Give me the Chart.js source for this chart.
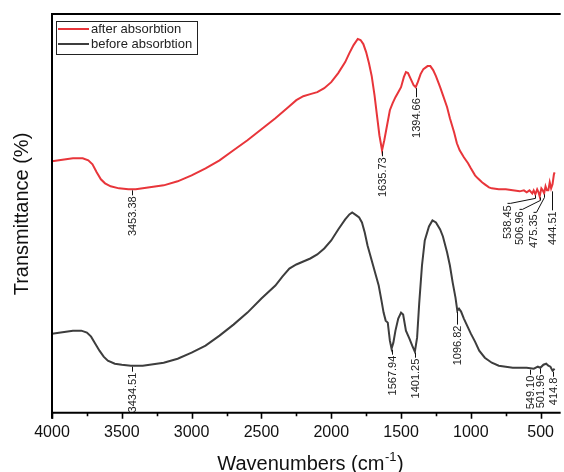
<!DOCTYPE html>
<html>
<head>
<meta charset="utf-8">
<script src="https://cdn.jsdelivr.net/npm/chart.js@4/dist/chart.umd.min.js"></script>
<style>
html,body{margin:0;padding:0;background:#fff;}
#wrap{width:564px;height:472px;position:relative;}
</style>
</head>
<body>
<div id="wrap"><canvas id="c" width="564" height="472"></canvas></div>
<script>
// ---- data ----
const seriesNames = ['after absorbtion', 'before absorbtion'];

const afterWavenumbers = [4000,3950,3900,3850,3780,3740,3710,3680,3650,3620,3580,3520,3453,3400,3300,3200,3100,3000,2900,2800,2700,2600,2500,2400,2300,2250,2200,2150,2100,2050,2000,1950,1900,1870,1840,1810,1790,1770,1750,1730,1710,1690,1670,1655,1636,1620,1600,1580,1560,1540,1520,1500,1480,1465,1450,1430,1410,1395,1380,1360,1340,1310,1290,1270,1250,1220,1200,1170,1150,1120,1100,1080,1050,1020,1000,970,950,920,900,870,850,800,750,700,650,620,600,580,560,550,538,525,515,507,495,485,475,465,455,445,435,425,415,405,400];
const afterValues = [62.75,63,63.25,63.5,63.5,63,62,60,58.25,57.25,56.5,56,55.75,55.75,56.25,56.75,57.75,59.25,61,63,65.5,68,70.75,73.5,76.5,78,79,79.5,80,81,82.5,84.75,87.5,89.75,91.75,93.25,93,92,90,87.25,84,79.25,73.5,69.25,65.5,68,71.75,75.5,77.25,78.75,80,81.25,83.75,85,84.75,83.25,81.75,81.25,82.5,84.5,85.75,86.5,86.5,85.5,84,81.25,79.25,76.25,73.5,70,67.25,65.5,63.75,62.25,61,59.25,58.5,57.5,57,56.25,56,55.75,55.75,55.5,55.25,55.5,55,55.5,54.75,55.5,54.5,55.75,55,54,56,55.5,54.75,56.5,55.5,55.5,57.5,56,57,59.5,60];

const beforeWavenumbers = [4000,3950,3900,3850,3790,3750,3720,3690,3660,3630,3600,3550,3500,3435,3350,3300,3200,3100,3000,2900,2800,2700,2600,2500,2400,2350,2300,2250,2200,2150,2100,2050,2000,1950,1900,1870,1850,1820,1800,1780,1760,1740,1720,1700,1680,1660,1640,1625,1610,1595,1580,1568,1555,1540,1520,1500,1485,1465,1440,1420,1401,1385,1370,1350,1330,1300,1275,1250,1220,1200,1170,1150,1130,1110,1097,1085,1070,1050,1020,1000,970,940,900,850,800,750,700,650,600,549,520,502,480,460,445,430,415,400];
const beforeValues = [19.75,20,20.25,20.5,20.5,20,19,17.25,15.5,14,13,12.25,12,11.75,11.75,12,12.5,13.5,15,16.75,19.25,22,25,28.5,31.75,34,36,37,37.75,38.5,39.5,41,43,45.75,48.25,49.5,50,49.25,48.75,47.5,45,41.75,39.25,36.75,34.25,31.75,28,25,23,22.5,18,16,17.5,20.5,23.5,25,24.5,20.5,18.5,16.75,15.25,18.75,27.25,36.75,43,46.5,48,47.5,45.75,44,40,36.75,32.5,28.75,25.5,26,25.25,23.5,21.25,19.75,17.75,15.5,13.75,12.5,11.75,11.5,11.25,11.25,11.25,11,11.5,11.25,12,12.25,11.75,11.5,10.5,11];

const xTickValues = [4000,3500,3000,2500,2000,1500,1000,500];
const xMinorTickValues = [3750,3250,2750,2250,1750,1250,750];

const afterPeakWavenumbers = [3453.38,1635.73,1394.66,538.45,506.96,475.35,444.51];
const afterPeakLabels = ['3453.38','1635.73','1394.66','538.45','506.96','475.35','444.51'];
const beforePeakWavenumbers = [3434.51,1567.94,1401.25,1096.82,549.10,501.96,414.8];
const beforePeakLabels = ['3434.51','1567.94','1401.25','1096.82','549.10','501.96','414.8'];

// ---- styling / placement (not data) ----
const RED = '#e8353a';
const DARK = '#3d3d3d';
const FONT = "'Liberation Sans', Arial, sans-serif";
// per-label offsets for crowded labels: [dx, dy]
const afterLabelOffsets = [[4,0],[0,0],[0,4],[-28,4],[-21,8],[-11,14],[4,14]];
const beforeLabelOffsets = [[1,0],[0,0],[0,0],[0,8],[-4,0],[0,0],[0,0]];

const toPts = (xs, ys) => xs.map((x, i) => ({x: x, y: ys[i]}));

function curvePixelY(chart, dsIndex, px) {
  const meta = chart.getDatasetMeta(dsIndex);
  let best = null, bd = Infinity;
  for (const el of meta.data) {
    const d = Math.abs(el.x - px);
    if (d < bd) { bd = d; best = el; }
  }
  return best.y;
}

const decorPlugin = {
  id: 'decor',
  afterDraw(chart) {
    const ctx = chart.ctx;
    const a = chart.chartArea;
    const xs = chart.scales.x;
    ctx.save();
    // frame
    ctx.strokeStyle = '#000';
    ctx.lineWidth = 2;
    ctx.beginPath();
    ctx.moveTo(a.left, a.bottom + 6);
    ctx.lineTo(a.left, a.top);
    ctx.lineTo(a.right + 2, a.top);
    ctx.moveTo(a.left, a.bottom);
    ctx.lineTo(a.right + 2, a.bottom);
    ctx.stroke();
    // ticks
    ctx.lineWidth = 1.6;
    ctx.beginPath();
    for (const v of xTickValues) {
      const p = Math.round(xs.getPixelForValue(v)) + 0.5;
      ctx.moveTo(p, a.bottom); ctx.lineTo(p, a.bottom + 6);
    }
    for (const v of xMinorTickValues) {
      const p = Math.round(xs.getPixelForValue(v)) + 0.5;
      ctx.moveTo(p, a.bottom); ctx.lineTo(p, a.bottom + 3.5);
    }
    ctx.stroke();

    // axis titles
    ctx.fillStyle = '#111';
    ctx.textBaseline = 'alphabetic';
    const t1 = 'Wavenumbers (cm', sup = '-1', t2 = ')';
    ctx.font = '20px ' + FONT;
    const w1 = ctx.measureText(t1).width;
    ctx.font = '13px ' + FONT;
    const ws = ctx.measureText(sup).width;
    ctx.font = '20px ' + FONT;
    const w2 = ctx.measureText(t2).width;
    let tx = 310 - (w1 + ws + w2) / 2;
    const ty = 470;
    ctx.textAlign = 'left';
    ctx.fillText(t1, tx, ty);
    ctx.font = '13px ' + FONT;
    ctx.fillText(sup, tx + w1 + 0.5, ty - 9);
    ctx.font = '20px ' + FONT;
    ctx.fillText(t2, tx + w1 + ws + 1, ty);

    ctx.save();
    ctx.translate(28, 214);
    ctx.rotate(-Math.PI / 2);
    ctx.textAlign = 'center';
    ctx.font = '20px ' + FONT;
    ctx.fillText('Transmittance (%)', 0, 0);
    ctx.restore();

    // legend
    ctx.strokeStyle = '#222';
    ctx.lineWidth = 1;
    ctx.strokeRect(56.5, 21.5, 141, 33);
    const legendColors = [RED, DARK];
    ctx.font = '13px ' + FONT;
    ctx.textAlign = 'left';
    ctx.textBaseline = 'middle';
    seriesNames.forEach((n, i) => {
      const y = 29 + i * 15;
      ctx.strokeStyle = legendColors[i];
      ctx.lineWidth = 2;
      ctx.beginPath(); ctx.moveTo(58, y); ctx.lineTo(89, y); ctx.stroke();
      ctx.fillStyle = '#222';
      ctx.fillText(n, 91, y + 0.5);
    });

    // peak annotations
    const drawPeaks = (dsIndex, wns, labels, offs) => {
      ctx.font = '11px ' + FONT;
      ctx.fillStyle = '#222';
      ctx.strokeStyle = '#111';
      ctx.lineWidth = 1;
      wns.forEach((wn, i) => {
        const px = xs.getPixelForValue(wn);
        const cy = curvePixelY(chart, dsIndex, px);
        const [dx, dy] = offs[i];
        const lx = Math.round(px + dx) + 0.5;
        const top = cy + 7 + dy;
        ctx.beginPath();
        if (Math.abs(dx) < 5) {
          ctx.moveTo(lx, cy + 1);
          ctx.lineTo(lx, top - 1);
        } else {
          ctx.moveTo(Math.round(px) + 0.5, cy + 1);
          ctx.lineTo(Math.round(px) + 0.5, cy + 4);
          ctx.lineTo(lx + 3, top - 2);
          ctx.lineTo(lx, top - 2);
        }
        ctx.stroke();
        ctx.save();
        ctx.translate(lx, top);
        ctx.rotate(-Math.PI / 2);
        ctx.textAlign = 'right';
        ctx.textBaseline = 'middle';
        ctx.fillText(labels[i], 0, 0);
        ctx.restore();
      });
    };
    drawPeaks(0, afterPeakWavenumbers, afterPeakLabels, afterLabelOffsets);
    drawPeaks(1, beforePeakWavenumbers, beforePeakLabels, beforeLabelOffsets);
    ctx.restore();
  }
};

new Chart(document.getElementById('c'), {
  type: 'line',
  data: {
    datasets: [
      { label: seriesNames[0], data: toPts(afterWavenumbers, afterValues), borderColor: RED, borderWidth: 2, pointRadius: 0, tension: 0, fill: false },
      { label: seriesNames[1], data: toPts(beforeWavenumbers, beforeValues), borderColor: DARK, borderWidth: 2, pointRadius: 0, tension: 0, fill: false }
    ]
  },
  options: {
    responsive: false,
    animation: false,
    events: [],
    layout: { padding: { left: 52, top: 14, right: 0, bottom: 20 } },
    plugins: { legend: { display: false }, tooltip: { enabled: false } },
    scales: {
      x: {
        type: 'linear',
        reverse: true,
        min: 371,
        max: 4000,
        afterBuildTicks: (s) => { s.ticks = xTickValues.map(v => ({ value: v })); },
        grid: { display: false, drawTicks: false },
        border: { display: false },
        ticks: { padding: 10, color: '#111', font: { family: FONT, size: 16 }, maxRotation: 0, autoSkip: false, callback: (v) => String(v) }
      },
      y: { display: false, min: 0, max: 99.5 }
    }
  },
  plugins: [decorPlugin]
});
</script>
</body>
</html>
